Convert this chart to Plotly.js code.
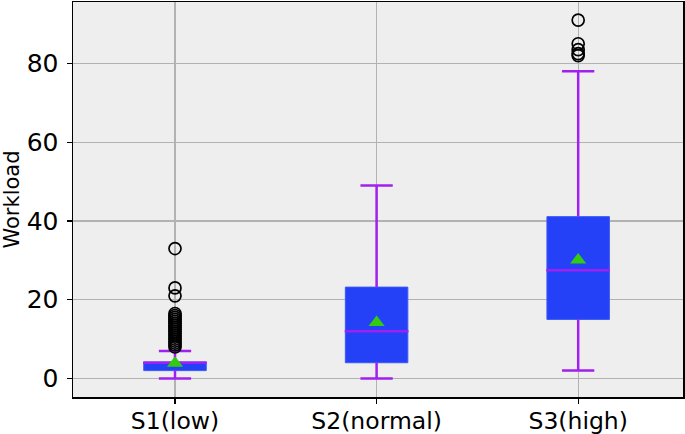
<!DOCTYPE html>
<html>
<head>
<meta charset="utf-8">
<script src="https://cdn.plot.ly/plotly-3.0.1.min.js"></script>
<style>html,body{margin:0;padding:0;background:#fff;}#chart{width:685px;height:434px;}</style>
</head>
<body>
<div id="chart"></div>
<script>
// Data
const categories = ["S1(low)", "S2(normal)", "S3(high)"];
const q1 = [2, 4, 15];
const median = [4, 12, 27.5];
const q3 = [4.2, 23.2, 41.1];
const lowerWhisker = [0, 0, 2];
const upperWhisker = [7, 49, 78];
const means = [3.9, 14.2, 30.1];
const outliersS1 = [33, 23, 21, 16.5, 16, 15.5, 15, 14.5, 14, 13.5, 13, 12.5, 12, 11.5, 11, 10.5, 10, 9.5, 9, 8.5, 8];
const outliersS2 = [];
const outliersS3 = [91, 85, 83.5, 82.5, 82];
const outliers = [outliersS1, outliersS2, outliersS3];

const positions = categories.map((c, i) => i + 1);
const BOX_W = 0.31, CAP_HALF = 0.08;
const purple = '#a020f0', blue = '#2541f7', green = '#33cc11';

const traces = [];
// box bodies
categories.forEach((c, i) => {
  traces.push({
    type: 'box', x: [positions[i]], q1: [q1[i]], median: [median[i]], q3: [q3[i]],
    lowerfence: [lowerWhisker[i]], upperfence: [upperWhisker[i]],
    width: BOX_W, whiskerwidth: 0.5, fillcolor: blue,
    line: {color: '#3d58f6', width: 1}, boxpoints: false, showlegend: false, hoverinfo: 'skip'
  });
});
// purple whiskers, caps and medians
const lx = [], ly = [];
categories.forEach((c, i) => {
  const p = positions[i];
  lx.push(p, p, null, p, p, null);
  ly.push(q3[i], upperWhisker[i], null, q1[i], lowerWhisker[i], null);
  lx.push(p - CAP_HALF, p + CAP_HALF, null, p - CAP_HALF, p + CAP_HALF, null);
  ly.push(upperWhisker[i], upperWhisker[i], null, lowerWhisker[i], lowerWhisker[i], null);
  lx.push(p - BOX_W / 2 - 0.003, p + BOX_W / 2 + 0.003, null);
  ly.push(median[i], median[i], null);
});
traces.push({type: 'scatter', mode: 'lines', x: lx, y: ly, line: {color: purple, width: 2.5}, showlegend: false, hoverinfo: 'skip', connectgaps: false});
// outliers
const ox = [], oy = [];
outliers.forEach((arr, i) => arr.forEach(v => { ox.push(positions[i]); oy.push(v); }));
traces.push({type: 'scatter', mode: 'markers', x: ox, y: oy,
  marker: {symbol: 'circle-open', size: 12, color: '#000', line: {width: 1.7, color: '#000'}}, showlegend: false});
// means
traces.push({type: 'scatter', mode: 'markers', x: positions, y: means,
  marker: {symbol: 'triangle-up', size: 14, color: green, line: {width: 0}}, showlegend: false});

const layout = {
  width: 685, height: 434,
  margin: {l: 73, r: 2, t: 2, b: 37},
  paper_bgcolor: '#ffffff', plot_bgcolor: '#eeeeee',
  font: {family: 'DejaVu Sans', color: '#000'},
  xaxis: {
    range: [0.494, 3.52], tickvals: positions, ticktext: categories,
    showgrid: true, gridcolor: '#b2b2b2', gridwidth: 1.3, zeroline: false,
    showline: true, linecolor: '#000', linewidth: 1.5, mirror: true,
    ticks: 'outside', ticklen: 5, tickwidth: 1.2, tickcolor: '#000',
    ticklabelstandoff: -3,
    tickfont: {size: 23.5, family: 'DejaVu Sans', color: '#000'}
  },
  yaxis: {
    range: [-4.7, 95.6], tickvals: [0, 20, 40, 60, 80],
    showgrid: true, gridcolor: '#b2b2b2', gridwidth: 1.3, zeroline: false,
    showline: true, linecolor: '#000', linewidth: 1.5, mirror: true,
    ticks: 'outside', ticklen: 5, tickwidth: 1.2, tickcolor: '#000',
    ticklabelstandoff: 3,
    tickfont: {size: 25, family: 'DejaVu Sans', color: '#000'},
    title: {text: 'Workload', font: {size: 21, family: 'DejaVu Sans', color: '#000'}, standoff: 4}
  }
};
Plotly.newPlot('chart', traces, layout, {displayModeBar: false, staticPlot: true});
</script>
</body>
</html>
